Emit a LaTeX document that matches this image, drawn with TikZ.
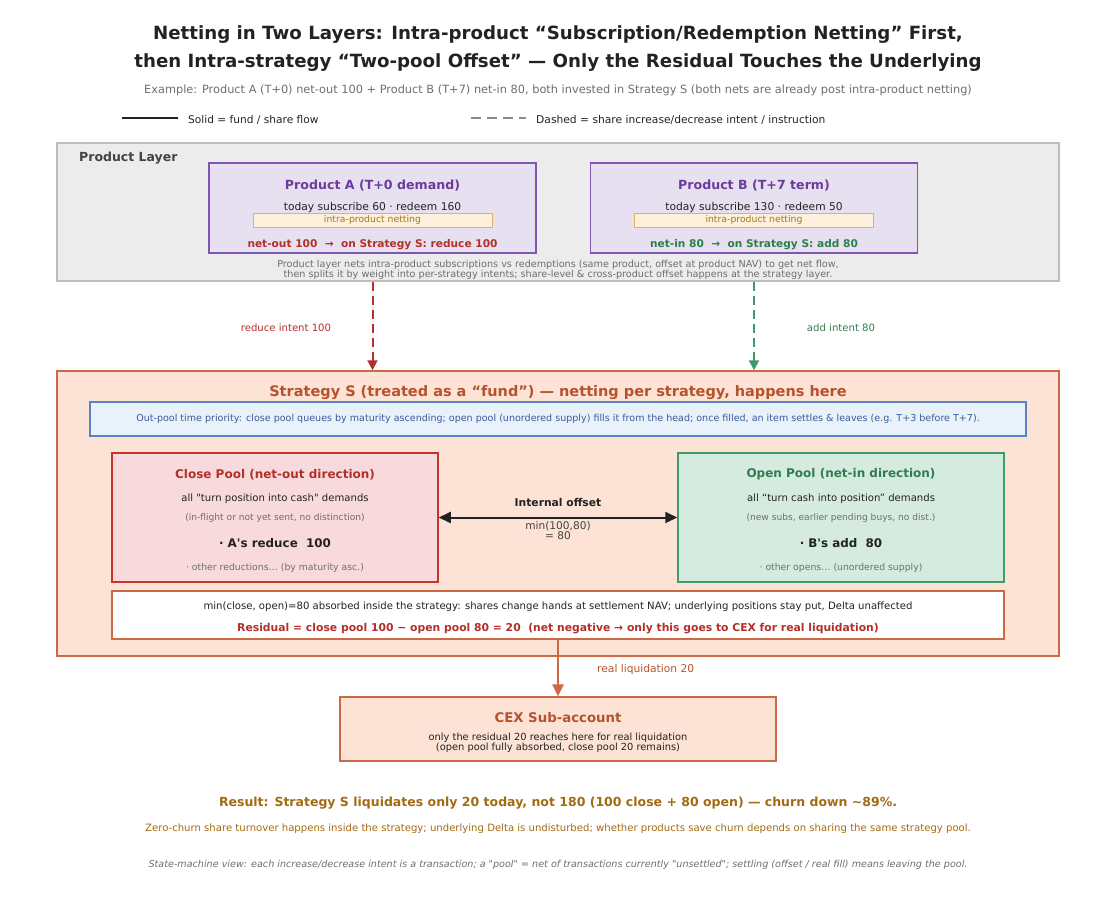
\documentclass[tikz,border=0pt]{standalone}
\usepackage{fontspec}
\setmainfont{DejaVu Sans}[Ligatures=TeXOff]
\usetikzlibrary{arrows.meta}

\definecolor{inkdark}{HTML}{222222}
\definecolor{inkgray}{HTML}{6E6E6E}
\definecolor{layerfill}{HTML}{ECECEC}
\definecolor{layerdraw}{HTML}{BDBDBD}
\definecolor{prodfill}{HTML}{E7E0F0}
\definecolor{proddraw}{HTML}{7E57B5}
\definecolor{prodtext}{HTML}{6A3D9A}
\definecolor{netfill}{HTML}{FDF1DC}
\definecolor{netdraw}{HTML}{E3B456}
\definecolor{nettext}{HTML}{A6761D}
\definecolor{redink}{HTML}{B2302A}
\definecolor{greenink}{HTML}{2E7D4F}
\definecolor{greenline}{HTML}{3A9A6A}
\definecolor{stratfill}{HTML}{FCE3D6}
\definecolor{stratdraw}{HTML}{CC6A45}
\definecolor{stratink}{HTML}{B5532D}
\definecolor{bluefill}{HTML}{E9F1FA}
\definecolor{bluedraw}{HTML}{5B83C2}
\definecolor{blueink}{HTML}{3B5C99}
\definecolor{closefill}{HTML}{F8DADD}
\definecolor{closedraw}{HTML}{C8332D}
\definecolor{openfill}{HTML}{D6EBE0}
\definecolor{opendraw}{HTML}{3E9C66}
\definecolor{resultink}{HTML}{A36A12}

\tikzset{
  txt/.style={inner sep=0pt, anchor=center, yshift=-1.5pt},
  fsz/.style={font=\fontsize{#1}{#1}\selectfont},
  fbf/.style={font=\fontsize{#1}{#1}\selectfont\bfseries},
  box/.style={draw, line width=1.5pt, inner sep=0pt},
  prodbox/.style={box, fill=prodfill, draw=proddraw, minimum width=327pt, minimum height=90pt},
  netbox/.style={draw=netdraw, fill=netfill, line width=0.8pt, minimum width=239pt, minimum height=14pt, inner sep=0pt, text=nettext, fsz=9.3},
  poolbox/.style={box, minimum width=326pt, minimum height=129pt},
  intent/.style={dash pattern=on 9pt off 5pt, line width=2pt, -{Triangle[length=10pt,width=10pt]}},
}

\begin{document}
\begin{tikzpicture}[x=1pt, y=-1pt]
\useasboundingbox (0,0) rectangle (1116,897);

% Title and legend
\node[txt, fbf=18.2, text=inkdark] (title1) at (558,33) {Netting in Two Layers: Intra-product “Subscription/Redemption Netting” First,};
\node[txt, fbf=18.2, text=inkdark] (title2) at (558,61) {then Intra-strategy “Two-pool Offset” — Only the Residual Touches the Underlying};
\node[txt, fsz=11.35, text=inkgray] (sub) at (558,89) {Example: Product A (T+0) net-out 100 + Product B (T+7) net-in 80, both invested in Strategy S (both nets are already post intra-product netting)};

\coordinate (solidA) at (122,118);
\coordinate (solidB) at (178,118);
\draw[inkdark, line width=2.2pt] (solidA) -- (solidB);
\node[txt, anchor=west, fsz=10.6, text=inkdark] (solidlbl) at (188,118) {Solid = fund / share flow};
\coordinate (dashA) at (471,118);
\coordinate (dashB) at (526,118);
\draw[inkgray!80, line width=2.2pt, dash pattern=on 10pt off 6pt] (dashA) -- (dashB);
\node[txt, anchor=west, fsz=10.7, text=inkdark] (dashlbl) at (536,118) {Dashed = share increase/decrease intent / instruction};

% Product layer
\node[draw=layerdraw, fill=layerfill, line width=1.2pt, minimum width=1002pt, minimum height=138pt, inner sep=0pt] (layer) at (558,212) {};
\node[txt, anchor=west, fbf=12.5, text=inkdark!85] (layerlbl) at (79,157) {Product Layer};

\node[prodbox] (prodA) at (372.5,208) {};
\node[txt, fbf=12.6, text=prodtext] (prodAt) at (372.5,184) {Product A (T+0 demand)};
\node[txt, fsz=10.7, text=inkdark] (prodAf) at (372.5,206) {today subscribe 60 · redeem 160};
\node[netbox] (netA) at (372.5,220) {intra-product netting};
\node[txt, fbf=10.6, text=redink] (prodAr) at (372.5,243) {net-out 100 \ → \ on Strategy S: reduce 100};

\node[prodbox] (prodB) at (754,208) {};
\node[txt, fbf=12.6, text=prodtext] (prodBt) at (754,184) {Product B (T+7 term)};
\node[txt, fsz=10.7, text=inkdark] (prodBf) at (754,206) {today subscribe 130 · redeem 50};
\node[netbox] (netB) at (754,220) {intra-product netting};
\node[txt, fbf=10.6, text=greenink] (prodBr) at (754,243) {net-in 80 \ → \ on Strategy S: add 80};

\node[txt, fsz=9.65, text=inkgray, align=center] (layernote) at (558,268.5) {Product layer nets intra-product subscriptions vs redemptions (same product, offset at product NAV) to get net flow,\\[0.8pt]then splits it by weight into per-strategy intents; share-level \& cross-product offset happens at the strategy layer.};

% Strategy layer
\node[draw=stratdraw, fill=stratfill, line width=1.5pt, minimum width=1002pt, minimum height=285pt, inner sep=0pt] (strat) at (558,513.5) {};
\node[txt, fbf=14.5, text=stratink] (stratt) at (558,391) {Strategy S (treated as a “fund”) — netting per strategy, happens here};
\node[draw=bluedraw, fill=bluefill, line width=1.2pt, minimum width=936pt, minimum height=34pt, inner sep=0pt, text=blueink, fsz=9.55] (queue) at (558,419) {Out-pool time priority: close pool queues by maturity ascending; open pool (unordered supply) fills it from the head; once filled, an item settles \& leaves (e.g. T+3 before T+7).};

% Close pool
\node[poolbox, fill=closefill, draw=closedraw] (close) at (275,517.5) {};
\node[txt, fbf=12, text=redink] (closet) at (275,473) {Close Pool (net-out direction)};
\node[txt, fsz=10.1, text=inkdark] (close1) at (275,497) {all "turn position into cash" demands};
\node[txt, fsz=9.1, text=inkgray] (close2) at (275,516) {(in-flight or not yet sent, no distinction)};
\node[txt, fbf=11.9, text=inkdark] (close3) at (275,542) {· A's reduce \ 100};
\node[txt, fsz=9.3, text=inkgray] (close4) at (275,566) {· other reductions… (by maturity asc.)};

% Open pool
\node[poolbox, fill=openfill, draw=opendraw] (open) at (841,517.5) {};
\node[txt, fbf=12, text=greenink] (opent) at (841,473) {Open Pool (net-in direction)};
\node[txt, fsz=10.1, text=inkdark] (open1) at (841,497) {all “turn cash into position” demands};
\node[txt, fsz=9.1, text=inkgray] (open2) at (841,516) {(new subs, earlier pending buys, no dist.)};
\node[txt, fbf=11.9, text=inkdark] (open3) at (841,542) {· B's add \ 80};
\node[txt, fsz=9.3, text=inkgray] (open4) at (841,566) {· other opens… (unordered supply)};

% Internal offset
\draw[inkdark, line width=2pt, {Triangle[length=12pt,width=11pt]}-{Triangle[length=12pt,width=11pt]}] (close.east) -- (open.west);
\node[txt, fbf=10.75, text=inkdark] (offt) at (558,501) {Internal offset};
\node[txt, fsz=10.6, text=inkdark!85, align=center] (offv) at (558,529) {min(100,80)\\= 80};

% Residual
\node[draw=stratdraw, fill=white, line width=1.2pt, minimum width=892pt, minimum height=48pt, inner sep=0pt] (resid) at (558,615) {};
\node[txt, fsz=10.1, text=inkdark] (resid1) at (558,605) {min(close, open)=80 absorbed inside the strategy: shares change hands at settlement NAV; underlying positions stay put, Delta unaffected};
\node[txt, fbf=10.8, text=redink] (resid2) at (558,627) {Residual = close pool 100 − open pool 80 = 20 \ (net negative → only this goes to CEX for real liquidation)};

% CEX
\node[draw=stratdraw, fill=stratfill, line width=1.5pt, minimum width=436pt, minimum height=64pt, inner sep=0pt] (cex) at (558,729) {};
\node[txt, fbf=13.3, text=stratink] (cext) at (558,716) {CEX Sub-account};
\node[txt, fsz=9.85, text=inkdark, align=center] (cexn) at (558,741.5) {only the residual 20 reaches here for real liquidation\\(open pool fully absorbed, close pool 20 remains)};

% Intent arrows
\coordinate (aTop) at (prodA.south |- layer.south);
\coordinate (aBot) at (prodA.south |- strat.north);
\coordinate (bTop) at (prodB.south |- layer.south);
\coordinate (bBot) at (prodB.south |- strat.north);
\draw[intent, redink] (aTop) -- (aBot);
\draw[intent, greenline] (bTop) -- (bBot);
\node[txt, fsz=10.1, text=redink] (redlbl) at (286,326) {reduce intent 100};
\node[txt, fsz=10.1, text=greenink] (greenlbl) at (841,326) {add intent 80};

% Real liquidation
\draw[stratdraw, line width=2.5pt, -{Triangle[length=12pt,width=11pt]}] (resid.south) -- (cex.north);
\node[txt, anchor=west, fsz=10.7, text=stratink] (liqlbl) at (597,668) {real liquidation 20};

% Result
\node[txt, fbf=12.5, text=resultink] (result) at (558,802) {Result: Strategy S liquidates only 20 today, not 180 (100 close + 80 open) — churn down \textasciitilde89\%.};
\node[txt, fsz=10.1, text=resultink] (result2) at (558,827) {Zero-churn share turnover happens inside the strategy; underlying Delta is undisturbed; whether products save churn depends on sharing the same strategy pool.};
\node[txt, text=inkgray, font=\fontsize{9.6}{9.6}\selectfont\itshape] (statem) at (558,863) {State-machine view: each increase/decrease intent is a transaction; a "pool" = net of transactions currently "unsettled"; settling (offset / real fill) means leaving the pool.};
\end{tikzpicture}
\end{document}
